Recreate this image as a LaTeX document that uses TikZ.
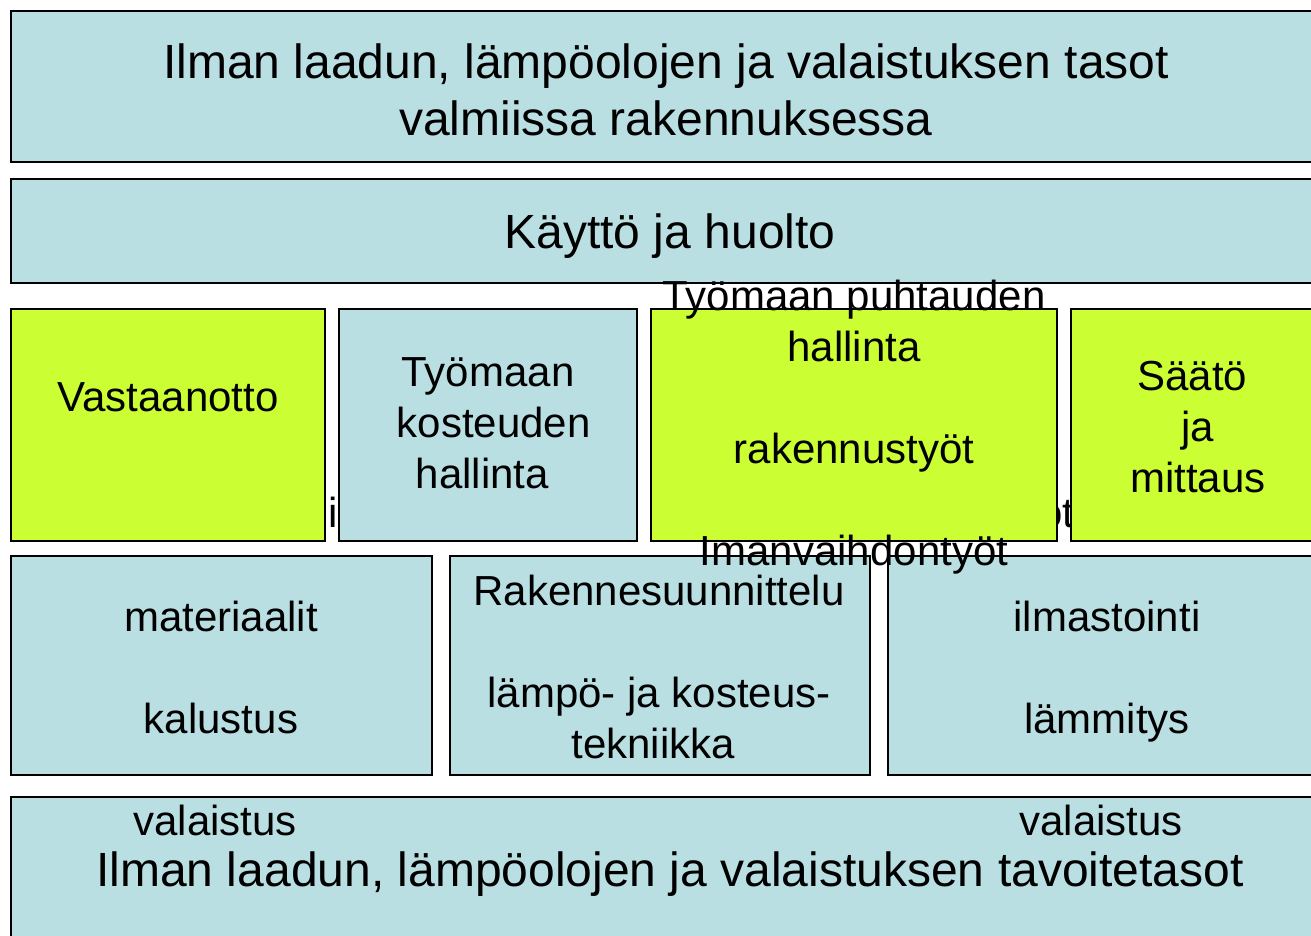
\documentclass[tikz,border=0pt]{standalone}
\usepackage{fontspec}
\setmainfont{Liberation Sans}
\definecolor{sininen}{RGB}{185,223,227}
\definecolor{vihrea}{RGB}{204,255,51}
\newcommand{\valeli}{\hspace*{5.8pt}}
\begin{document}
\begin{tikzpicture}[x=0.5pt,y=-0.5pt,
	sinilaatikko/.style={draw,fill=sininen,line width=0.9pt},
	vihrealaatikko/.style={draw,fill=vihrea,line width=0.9pt},
	iso/.style={font=\fontsize{24}{28.5}\selectfont,align=center,inner sep=0pt},
	teksti/.style={font=\fontsize{21}{25.5}\selectfont,align=center,inner sep=0pt},
	pala/.style={font=\fontsize{21}{25.5}\selectfont,inner sep=0pt}]
		\useasboundingbox (0,0) rectangle (1311,936);
		\clip (0,0) rectangle (1311,936);
		\draw (338,527) node[pala,anchor=base east] (piilo1) {ni};
		\draw (1075,527) node[pala,anchor=base east] (piilo2) {ot};
		\draw[sinilaatikko] (11,11) rectangle (1320,162);
		\draw[sinilaatikko] (11,179) rectangle (1320,283);
		\draw[vihrealaatikko] (11,309) rectangle (325,541);
		\draw[sinilaatikko] (339,309) rectangle (637,541);
		\draw[vihrealaatikko] (651,309) rectangle (1057,541);
		\draw[vihrealaatikko] (1071,309) rectangle (1320,541);
		\draw[sinilaatikko] (11,556) rectangle (432,775);
		\draw[sinilaatikko] (450,556) rectangle (870,775);
		\draw[sinilaatikko] (888,556) rectangle (1320,775);
		\draw[sinilaatikko] (11,797) rectangle (1320,950);
		\draw (666,90) node[iso] (tasot) {Ilman laadun, lämpöolojen ja valaistuksen tasot\\valmiissa rakennuksessa};
		\draw (670,236) node[iso] (kaytto) {Käyttö ja huolto};
		\draw (168,397) node[teksti] (vastaanotto) {Vastaanotto};
		\draw (488,423) node[teksti] (kosteus) {Työmaan\\\valeli kosteuden\\hallinta\valeli};
		\draw (854,427) node[teksti] (puhtaus) {Työmaan puhtauden\\hallinta\\[25.5pt]rakennustyöt\\[25.5pt]Imanvaihdontyöt};
		\draw (1198,427) node[teksti] (saato) {Säätö\valeli\\ja\\mittaus};
		\draw (221,718) node[teksti] (materiaalit) {materiaalit\\[25.5pt]kalustus\\[25.5pt]valaistus\valeli};
		\draw (659,667) node[teksti] (rakenne) {Rakennesuunnittelu\\[25.5pt]lämpö- ja kosteus-\\tekniikka\valeli};
		\draw (1107,718) node[teksti] (ilmastointi) {ilmastointi\\[25.5pt]lämmitys\\[25.5pt]valaistus\valeli};
		\draw (670,874) node[iso] (tavoite) {Ilman laadun, lämpöolojen ja valaistuksen tavoitetasot};
		\end{tikzpicture}
\end{document}
